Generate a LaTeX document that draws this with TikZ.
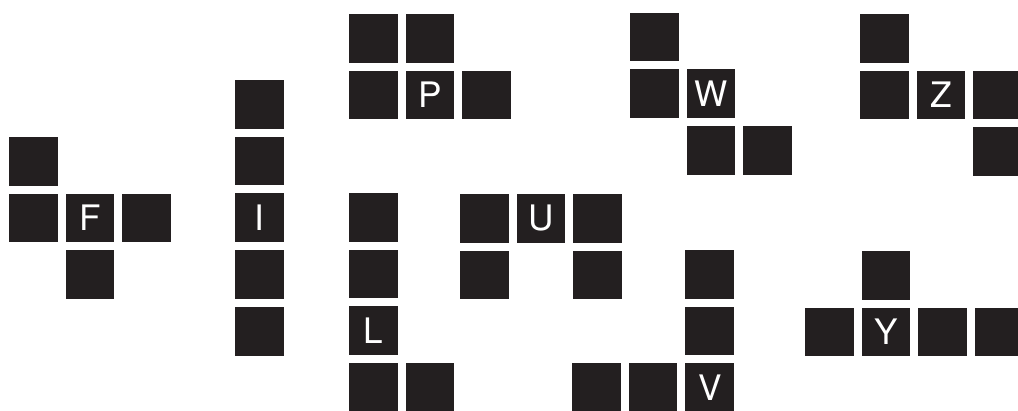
\documentclass[tikz,border=0pt]{standalone}
\usepackage{fontspec}
\newfontfamily\tilefont{TeX Gyre Heros}
\usepackage{tikz}
\definecolor{tile}{HTML}{231F20}
\def\pitch{56.7}

\begin{document}
\begin{tikzpicture}[x=0.02cm,y=-0.02cm,
  cell/.style={fill=tile,inner sep=0pt,minimum size=0.974cm,text=white,
    font=\tilefont\fontsize{20}{24}\selectfont}]
  \useasboundingbox (0,0) rectangle (1018,410);
  % F
  \begin{scope}[shift={(33.4,161.4)}]
    \foreach \c/\r [count=\i] in {0/0,0/1,2/1,1/2} \node[cell] (f\i) at (\c*\pitch,\r*\pitch) {};
    \node[cell] (fc) at (\pitch,\pitch) {F};
  \end{scope}
  % I
  \begin{scope}[shift={(259.4,104.4)}]
    \foreach \r [count=\i] in {0,1,3,4} \node[cell] (i\i) at (0,\r*\pitch) {};
    \node[cell] (ic) at (0,2*\pitch) {I};
  \end{scope}
  % P
  \begin{scope}[shift={(373.4,38.4)}]
    \foreach \c/\r [count=\i] in {0/0,1/0,0/1,2/1} \node[cell] (p\i) at (\c*\pitch,\r*\pitch) {};
    \node[cell] (pc) at (\pitch,\pitch) {P};
  \end{scope}
  % L
  \begin{scope}[shift={(373.4,217.4)}]
    \foreach \c/\r [count=\i] in {0/0,0/1,0/3,1/3} \node[cell] (l\i) at (\c*\pitch,\r*\pitch) {};
    \node[cell] (lc) at (0,2*\pitch) {L};
  \end{scope}
  % U
  \begin{scope}[shift={(484.4,218.4)}]
    \foreach \c/\r [count=\i] in {0/0,2/0,0/1,2/1} \node[cell] (u\i) at (\c*\pitch,\r*\pitch) {};
    \node[cell] (uc) at (\pitch,0) {U};
  \end{scope}
  % V
  \begin{scope}[shift={(596.4,274.4)}]
    \foreach \c/\r [count=\i] in {2/0,2/1,0/2,1/2} \node[cell] (v\i) at (\c*\pitch,\r*\pitch) {};
    \node[cell] (vc) at (2*\pitch,2*\pitch) {V};
  \end{scope}
  % W
  \begin{scope}[shift={(654.4,37)}]
    \foreach \c/\r [count=\i] in {0/0,0/1,1/2,2/2} \node[cell] (w\i) at (\c*\pitch,\r*\pitch) {};
    \node[cell] (wc) at (\pitch,\pitch) {W};
  \end{scope}
  % Z
  \begin{scope}[shift={(884.4,38.4)}]
    \foreach \c/\r [count=\i] in {0/0,0/1,2/1,2/2} \node[cell] (z\i) at (\c*\pitch,\r*\pitch) {};
    \node[cell] (zc) at (\pitch,\pitch) {Z};
  \end{scope}
  % Y
  \begin{scope}[shift={(829.4,275.4)}]
    \foreach \c/\r [count=\i] in {1/0,0/1,2/1,3/1} \node[cell] (y\i) at (\c*\pitch,\r*\pitch) {};
    \node[cell] (yc) at (\pitch,\pitch) {Y};
  \end{scope}
\end{tikzpicture}
\end{document}
